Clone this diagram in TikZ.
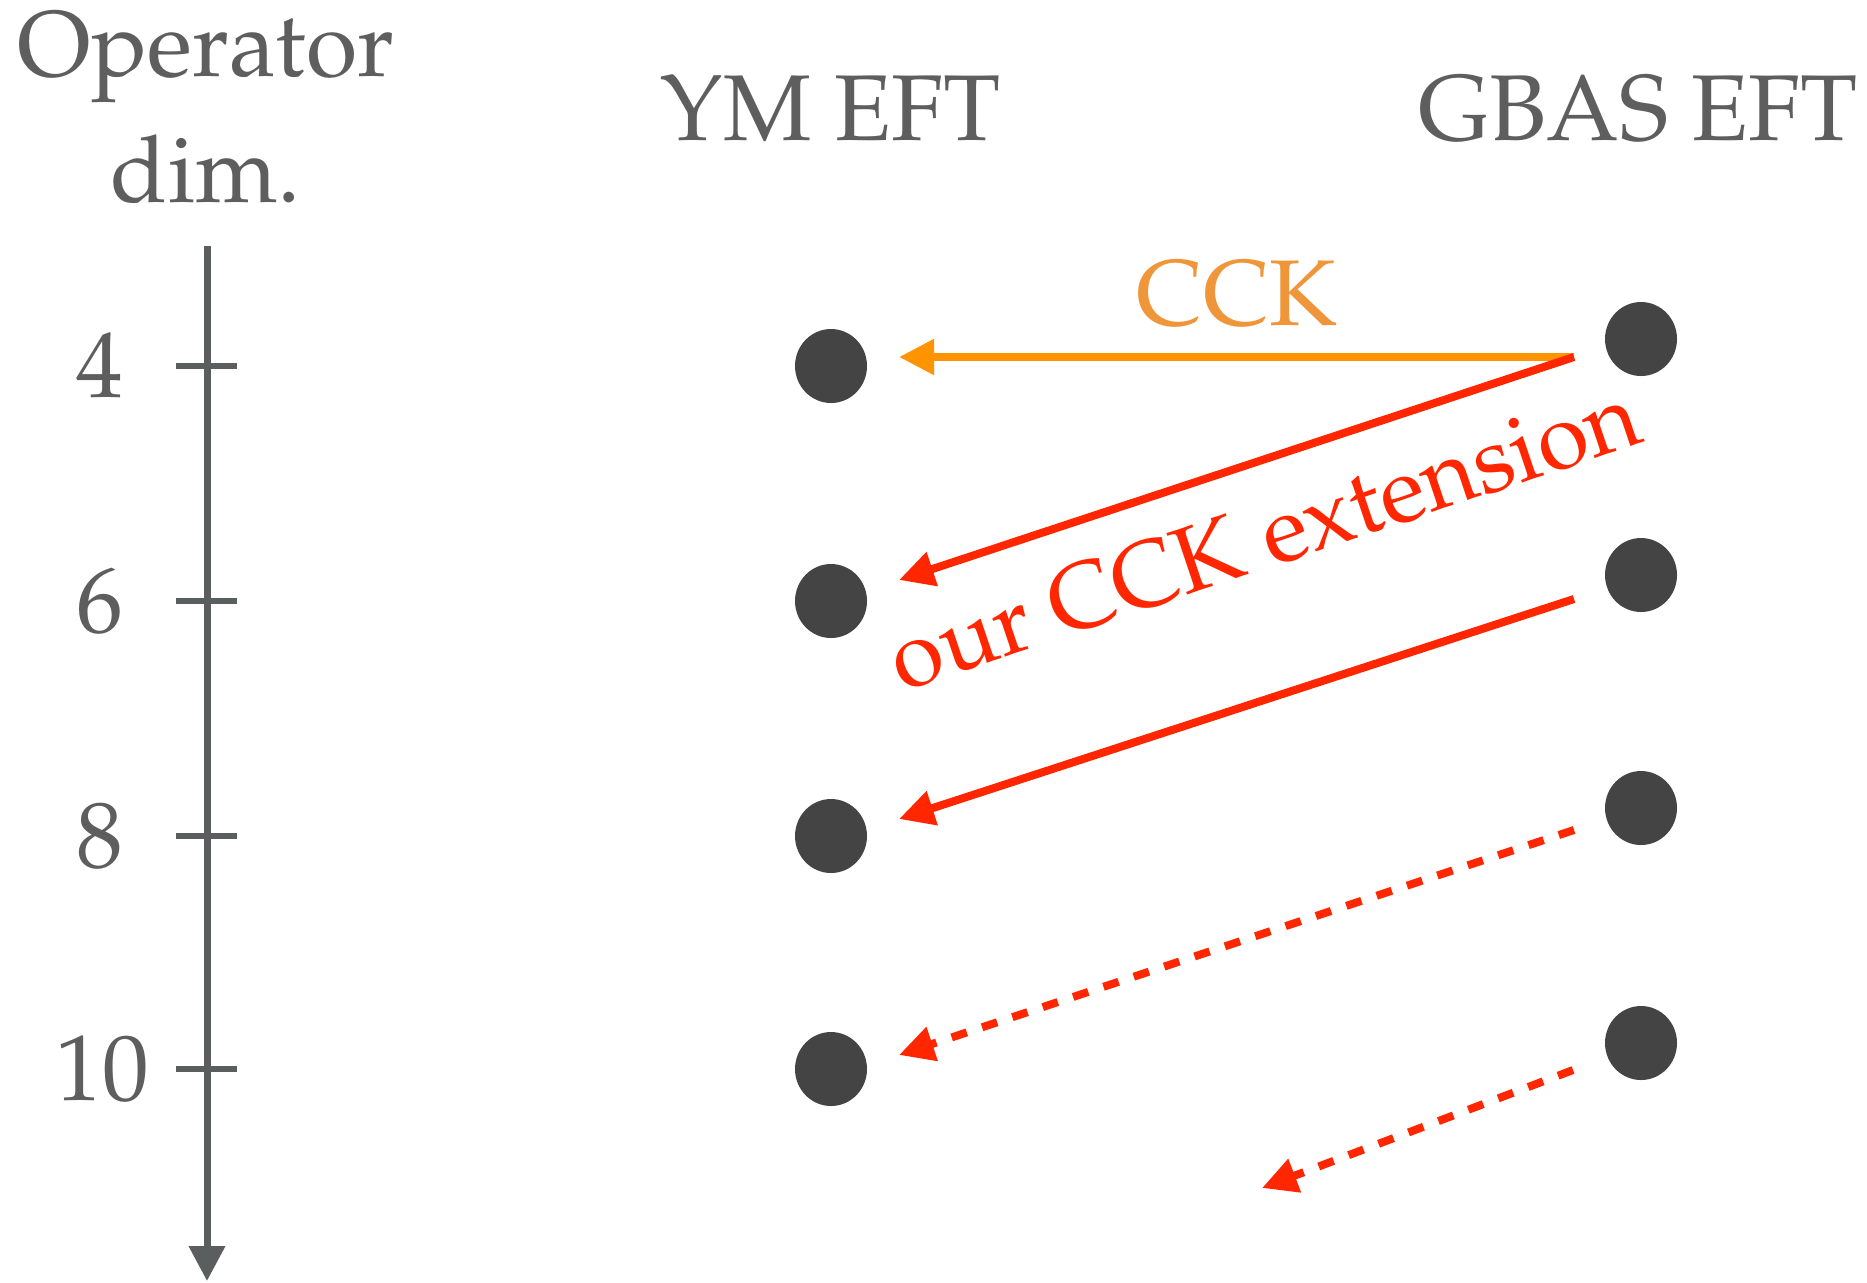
\documentclass[tikz,border=0pt]{standalone}
\usepackage[T1]{fontenc}
\usepackage{mathpazo}
\usetikzlibrary{arrows.meta,shapes.geometric}
\definecolor{labelgray}{HTML}{5E5E5E}
\definecolor{axisgray}{HTML}{5A5E5E}
\definecolor{dotgray}{HTML}{444444}
\definecolor{cckline}{HTML}{FF9300}
\definecolor{ccktext}{HTML}{F0963A}
\definecolor{extred}{HTML}{FF2600}
\tikzset{
  bigtext/.style={font=\fontsize{46.7}{54}\selectfont, inner sep=0pt, anchor=base},
  graylabel/.style={bigtext, text=labelgray},
  opdot/.style={ellipse, fill=dotgray, inner sep=0pt, minimum width=36pt, minimum height=37pt},
  flowarrow/.style={line width=4pt, -{Triangle[length=17.5pt,width=17pt]}},
  cckarrow/.style={flowarrow, draw=cckline},
  extarrow/.style={flowarrow, draw=extred},
  extdashed/.style={extarrow, dash pattern=on 8pt off 8pt},
  tickmark/.style={draw=axisgray, line width=3pt},
}
\begin{document}
\begin{tikzpicture}[x=0.5pt, y=-0.5pt]
  \useasboundingbox (0,0) rectangle (1867,1282);

  % dimension axis
  \coordinate (axtop) at (207,246);
  \coordinate (axbot) at (207,1281);
  \draw[draw=axisgray, line width=3.5pt, -{Triangle[length=17.5pt,width=17.5pt]}] (axtop) -- (axbot);
  \foreach \y/\nm in {366/t4, 601/t6, 836/t8, 1069/t10} {
    \coordinate (\nm a) at (176,\y);
    \coordinate (\nm b) at (237,\y);
    \draw[tickmark] (\nm a) -- (\nm b);
  }
  \node[graylabel] (d4)  at (100,397)  {4};
  \node[graylabel] (d6)  at (100,632)  {6};
  \node[graylabel] (d8)  at (100,867)  {8};
  \node[graylabel] (d10) at (102,1100) {10};

  % headings
  \node[graylabel] (op)   at (206,76)   {Operator};
  \node[graylabel] (dim)  at (206,202)  {dim.};
  \node[graylabel] (ym)   at (831,140)  {YM EFT};
  \node[graylabel] (gbas) at (1638,140) {GBAS EFT};

  % operators in each theory
  \node[opdot] (l4)  at (831,366)  {};
  \node[opdot] (l6)  at (831,601)  {};
  \node[opdot] (l8)  at (831,836)  {};
  \node[opdot] (l10) at (831,1069) {};
  \node[opdot] (r4)  at (1641,339)  {};
  \node[opdot] (r6)  at (1641,575)  {};
  \node[opdot] (r8)  at (1641,808)  {};
  \node[opdot] (r10) at (1641,1043) {};

  % arrow end points next to the operators
  \coordinate (s4)  at (1574,357);
  \coordinate (s6)  at (1574,599);
  \coordinate (s8)  at (1574,830);
  \coordinate (s10) at (1573,1070);
  \coordinate (e4)  at (899,357);
  \coordinate (e6)  at (899,580);
  \coordinate (e8)  at (899,819);
  \coordinate (e10) at (899,1055);
  \coordinate (e12) at (1262,1188);

  % matching maps
  \draw[cckarrow] (s4) -- (e4);
  \node[bigtext, text=ccktext] (cck) at (1237,325) {CCK};
  \draw[extarrow] (s4) -- (e6);
  \draw[extarrow] (s6) -- (e8);
  \draw[extdashed] (s8) -- (e10);
  \draw[extdashed] (s10) -- (e12);
  \node[bigtext, text=extred, rotate=18.6] (ext) at (1274,566) {our CCK extension};
\end{tikzpicture}
\end{document}
